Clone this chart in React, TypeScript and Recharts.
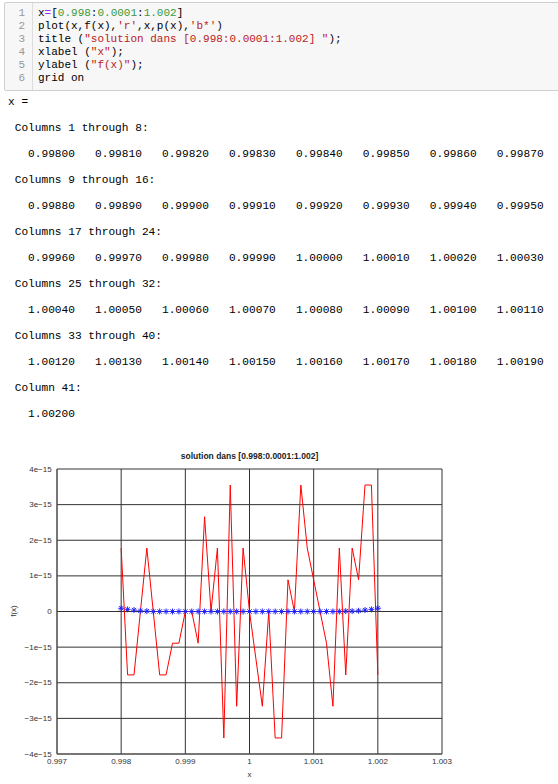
import React from "react";
import {
  CartesianGrid,
  Line,
  LineChart,
  XAxis,
  YAxis,
} from "recharts";

// x = [0.998:0.0001:1.002]
const xValues = [
  0.998, 0.9981, 0.9982, 0.9983, 0.9984, 0.9985, 0.9986, 0.9987, 0.9988,
  0.9989, 0.999, 0.9991, 0.9992, 0.9993, 0.9994, 0.9995, 0.9996, 0.9997,
  0.9998, 0.9999, 1.0, 1.0001, 1.0002, 1.0003, 1.0004, 1.0005, 1.0006,
  1.0007, 1.0008, 1.0009, 1.001, 1.0011, 1.0012, 1.0013, 1.0014, 1.0015,
  1.0016, 1.0017, 1.0018, 1.0019, 1.002,
];

// f(x), in units of 1e-15
const fValues = [
  1.78, -1.78, -1.78, 0, 1.78, 0, -1.78, -1.78, -0.89, -0.89, 0, 0, -0.89,
  2.66, 0, 1.78, -3.55, 3.55, -2.66, 1.78, 0, -1.33, -2.66, 0, -3.55, -3.55,
  0.89, 0, 3.55, 1.78, 0.89, 0, -0.89, -2.66, 1.78, -1.78, 1.78, 0.89, 3.55,
  3.55, -1.78,
];

// p(x), in units of 1e-15
const pValues = [
  0.09, 0.06, 0.04, 0.02, 0.01, 0, 0, 0, 0, 0, 0, 0, 0, 0, 0, 0, 0, 0, 0, 0,
  0, 0, 0, 0, 0, 0, 0, 0, 0, 0, 0, 0, 0, 0, 0, 0.01, 0.01, 0.02, 0.04, 0.06,
  0.09,
];

const xTicks = [0.997, 0.998, 0.999, 1, 1.001, 1.002, 1.003];
const xTickLabels = ["0.997", "0.998", "0.999", "1", "1.001", "1.002", "1.003"];
const yTicks = [-4, -3, -2, -1, 0, 1, 2, 3, 4];
const yTickLabels = [
  "\u22124e\u221215",
  "\u22123e\u221215",
  "\u22122e\u221215",
  "\u22121e\u221215",
  "0",
  "1e\u221215",
  "2e\u221215",
  "3e\u221215",
  "4e\u221215",
];

const data = xValues.map((x, i) => ({ x, f: fValues[i], p: pValues[i] }));

// octave printout of x
function outputLines() {
  const lines = ["x =", ""];
  for (let start = 0; start < xValues.length; start += 8) {
    const end = Math.min(start + 8, xValues.length);
    lines.push(
      end - start === 1
        ? ` Column ${start + 1}:`
        : ` Columns ${start + 1} through ${end}:`
    );
    lines.push("");
    lines.push(
      xValues
        .slice(start, end)
        .map((v) => v.toFixed(5).padStart(10, " "))
        .join("")
    );
    lines.push("");
  }
  return lines.join("\n");
}

const mono = "'Liberation Mono', monospace";
const sans = "'Liberation Sans', Arial, sans-serif";

const K = ({ c, children }: { c: string; children: React.ReactNode }) => (
  <span style={{ color: c }}>{children}</span>
);
const STR = "#ba2121";
const NUM = "#3a9a3a";
const OP = "#aa22ff";

const codeLines = [
  <>
    x<K c={OP}>=</K>[<K c={NUM}>0.998</K>:<K c={NUM}>0.0001</K>:
    <K c={NUM}>1.002</K>]
  </>,
  <>
    plot(x,f(x),<K c={STR}>'r'</K>,x,p(x),<K c={STR}>'b*'</K>)
  </>,
  <>
    title (<K c={STR}>"solution dans [0.998:0.0001:1.002] "</K>);
  </>,
  <>
    xlabel (<K c={STR}>"x"</K>);
  </>,
  <>
    ylabel (<K c={STR}>"f(x)"</K>);
  </>,
  <>grid on</>,
];

const StarDot = (props: any) => {
  const { cx, cy, index } = props;
  if (cx == null || cy == null) return <g key={`s${index}`} />;
  const r = 3;
  const d = r * 0.72;
  return (
    <g key={`s${index}`} stroke="#2222ff" strokeWidth={1}>
      <line x1={cx - r} y1={cy} x2={cx + r} y2={cy} />
      <line x1={cx} y1={cy - r} x2={cx} y2={cy + r} />
      <line x1={cx - d} y1={cy - d} x2={cx + d} y2={cy + d} />
      <line x1={cx - d} y1={cy + d} x2={cx + d} y2={cy - d} />
    </g>
  );
};

const XTick = (props: any) => {
  const { x, y, index } = props;
  return (
    <text
      x={x}
      y={y + 7.7}
      textAnchor="middle"
      dominantBaseline="central"
      fontSize={8}
      fontFamily={sans}
      fill="#333"
    >
      {xTickLabels[index]}
    </text>
  );
};

const YTick = (props: any) => {
  const { x, y, index } = props;
  return (
    <text
      x={x - 5.3}
      y={y}
      textAnchor="end"
      dominantBaseline="central"
      fontSize={8}
      fontFamily={sans}
      fill="#333"
    >
      {yTickLabels[index]}
    </text>
  );
};

export default function App() {
  return (
    <div
      style={{
        position: "absolute",
        left: 0,
        top: 0,
        width: 558,
        height: 784,
        background: "#fff",
        overflow: "hidden",
      }}
    >
      {/* code cell */}
      <div
        style={{
          position: "absolute",
          left: 4,
          top: 2,
          width: 570,
          height: 87,
          background: "#f7f7f7",
          border: "1px solid #cfcfcf",
          borderRadius: 2,
        }}
      >
        <div
          style={{
            position: "absolute",
            left: 0,
            top: 0,
            width: 27,
            height: 87,
            borderRight: "1px solid #ddd",
          }}
        />
        {codeLines.map((line, i) => (
          <React.Fragment key={i}>
            <div
              style={{
                position: "absolute",
                left: 0,
                width: 20,
                top: 4 + i * 13,
                textAlign: "right",
                font: `11px ${mono}`,
                lineHeight: "13px",
                color: "#999",
              }}
            >
              {i + 1}
            </div>
            <div
              style={{
                position: "absolute",
                left: 33,
                top: 4 + i * 13,
                font: `11px ${mono}`,
                lineHeight: "13px",
                color: "#000",
                whiteSpace: "pre",
              }}
            >
              {line}
            </div>
          </React.Fragment>
        ))}
      </div>

      {/* output */}
      <pre
        style={{
          position: "absolute",
          left: 8,
          top: 95.5,
          margin: 0,
          font: `11.17px ${mono}`,
          lineHeight: "13px",
          color: "#000",
        }}
      >
        {outputLines()}
      </pre>

      {/* plot */}
      <div style={{ position: "absolute", left: 0, top: 440, width: 558, height: 344 }}>
        <LineChart
          width={558}
          height={344}
          data={data}
          margin={{ top: 29, right: 116, bottom: 10, left: 0 }}
        >
          <CartesianGrid stroke="#333" strokeWidth={1} />
          <XAxis
            dataKey="x"
            type="number"
            domain={[0.997, 1.003]}
            ticks={xTicks}
            allowDataOverflow
            height={20}
            tickSize={0}
            tickMargin={0}
            tickLine={false}
            axisLine={{ stroke: "#555" }}
            tick={<XTick />}
            interval={0}
          />
          <YAxis
            type="number"
            domain={[-4, 4]}
            ticks={yTicks}
            width={57}
            tickSize={0}
            tickMargin={0}
            tickLine={false}
            axisLine={{ stroke: "#555" }}
            tick={<YTick />}
            interval={0}
          />
          <Line
            type="linear"
            dataKey="f"
            stroke="#ff0000"
            strokeWidth={1}
            dot={false}
            isAnimationActive={false}
          />
          <Line
            type="linear"
            dataKey="p"
            stroke="none"
            dot={StarDot}
            activeDot={false}
            isAnimationActive={false}
          />
        </LineChart>
        <div
          style={{
            position: "absolute",
            left: 57,
            width: 385,
            top: 10,
            textAlign: "center",
            font: `bold 8.5px ${sans}`,
            lineHeight: "12px",
            color: "#222",
          }}
        >
          solution dans [0.998:0.0001:1.002]
        </div>
        <div
          style={{
            position: "absolute",
            left: 57,
            width: 385,
            top: 329,
            textAlign: "center",
            font: `8px ${sans}`,
            lineHeight: "12px",
            color: "#333",
          }}
        >
          x
        </div>
        <div
          style={{
            position: "absolute",
            left: 14,
            top: 171,
            transform: "translate(-50%, -50%) rotate(-90deg)",
            font: `8px ${sans}`,
            lineHeight: "12px",
            color: "#333",
            whiteSpace: "nowrap",
          }}
        >
          f(x)
        </div>
      </div>
    </div>
  );
}
